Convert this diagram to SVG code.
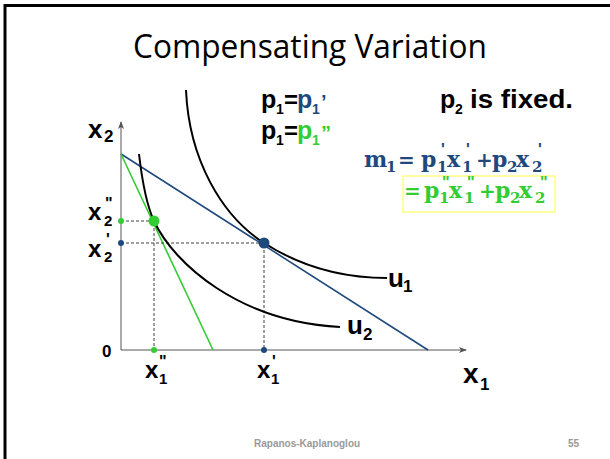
<svg xmlns="http://www.w3.org/2000/svg" width="610" height="459" viewBox="0 0 610 459">
<defs>
<style>
.lab{font-family:"Liberation Sans",Arial,sans-serif;font-weight:bold;fill:#000}
.math{font-family:"DejaVu Serif",serif;font-weight:bold}
.pr{font-family:"Liberation Sans",Arial,sans-serif;font-weight:bold}
.blue{fill:#1F497D}
.green{fill:#33CC33}
.dash{stroke:#404040;stroke-width:1;stroke-dasharray:3,2;fill:none}
.curve{fill:none;stroke:#000;stroke-width:2}
.axis{stroke:#555;stroke-width:1;fill:none}
</style>
<marker id="arr" markerWidth="8" markerHeight="6" refX="7" refY="3" orient="auto" markerUnits="userSpaceOnUse"><path d="M0,0 L8,3 L0,6 L2,3 z" fill="#555"/></marker>
</defs>
<rect width="610" height="459" fill="#fff"/>
<rect x="5" y="5.5" width="620" height="470" fill="none" stroke="#000" stroke-width="3"/>
<text x="310" y="58" text-anchor="middle" font-family="'Open Sans',sans-serif" font-size="32" textLength="354" lengthAdjust="spacingAndGlyphs" fill="#000">Compensating Variation</text>

<g id="axes">
<line class="axis" x1="121" y1="350" x2="121" y2="122" marker-end="url(#arr)"/>
<line class="axis" x1="121" y1="350" x2="466" y2="350" marker-end="url(#arr)"/>
</g>

<g id="connectors">
<line x1="121" y1="154" x2="428" y2="350" stroke="#1F497D" stroke-width="1.6"/>
<line x1="121" y1="154" x2="213" y2="350" stroke="#33CC33" stroke-width="1.6"/>
<path class="dash" d="M121,221 H154 V350"/>
<path class="dash" d="M121,243 H264 V350"/>
<path id="u1" class="curve" d="M186,90 C189,160 222,216 264,243 C300,266 340,278 387,278"/>
<path id="u2" class="curve" d="M139,154 C142,180 147,206 154,221 C174,264 240,322 340,327"/>
</g>

<g id="points">
<circle cx="154" cy="221" r="5.5" fill="#33CC33"/>
<circle cx="264" cy="243" r="5.5" fill="#1F497D"/>
<circle cx="121" cy="221" r="3" fill="#33CC33"/>
<circle cx="121" cy="243" r="3" fill="#1F497D"/>
<circle cx="154" cy="350" r="3" fill="#33CC33"/>
<circle cx="264" cy="350" r="3" fill="#1F497D"/>
</g>

<g id="axis-labels" class="lab">
<text x="88" y="138" font-size="26">x</text><text x="104" y="142" font-size="17">2</text>
<text x="102" y="357" font-size="17">0</text>
<text x="88" y="220" font-size="24">x</text><text x="105" y="209" font-size="16">"</text><text x="104" y="226" font-size="15">2</text>
<text x="88" y="257" font-size="24">x</text><text x="106" y="245" font-size="16">'</text><text x="104" y="262" font-size="15">2</text>
<text x="145" y="378" font-size="24">x</text><text x="159" y="367" font-size="16">"</text><text x="159" y="384" font-size="15">1</text>
<text x="257" y="378" font-size="24">x</text><text x="272" y="367" font-size="16">'</text><text x="271" y="384" font-size="15">1</text>
<text x="463" y="383" font-size="28">x</text><text x="480" y="390" font-size="17">1</text>
<text x="388" y="287" font-size="26">u</text><text x="403" y="292" font-size="17">1</text>
<text x="347" y="334" font-size="26">u</text><text x="363" y="340" font-size="17">2</text>
</g>

<g id="price-notes" class="lab">
<text x="261" y="108" font-size="25">p</text><text x="276" y="114" font-size="14">1</text><text x="284" y="108" font-size="24">=</text>
<text x="297" y="108" font-size="25" class="blue">p</text><text x="312" y="114" font-size="14" class="blue">1</text><text x="321" y="109" font-size="20" class="blue">’</text>
<text x="261" y="139" font-size="25">p</text><text x="276" y="145" font-size="14">1</text><text x="284" y="139" font-size="24">=</text>
<text x="297" y="139" font-size="25" class="green">p</text><text x="312" y="145" font-size="14" class="green">1</text><text x="321" y="140" font-size="20" class="green">”</text>
<text x="440" y="108" font-size="25">p</text><text x="455" y="114" font-size="14">2</text><text x="470" y="108" font-size="25" textLength="103" lengthAdjust="spacingAndGlyphs">is fixed.</text>
</g>

<g id="budget-eq" class="math">
<g class="blue">
<text x="364" y="167" font-size="22">m</text><text x="386" y="172" font-size="15">1</text>
<text x="398" y="167" font-size="20">=</text>
<text x="421" y="167" font-size="22">p</text><text x="441" y="155" font-size="16" class="pr">'</text><text x="437" y="172" font-size="15">1</text>
<text x="447" y="167" font-size="22">x</text><text x="466" y="155" font-size="16" class="pr">'</text><text x="462" y="172" font-size="15">1</text>
<text x="476" y="167" font-size="20">+</text>
<text x="492" y="167" font-size="22">p</text><text x="507" y="172" font-size="15">2</text>
<text x="516" y="167" font-size="22">x</text><text x="538" y="155" font-size="16" class="pr">'</text><text x="532" y="172" font-size="15">2</text>
</g>
<rect x="403" y="176" width="152" height="36" fill="none" stroke="#FFFF44" stroke-width="1"/>
<g class="green">
<text x="404" y="198" font-size="20">=</text>
<text x="424" y="198" font-size="22">p</text><text x="442" y="188" font-size="16" class="pr">"</text><text x="439" y="203" font-size="15">1</text>
<text x="449" y="198" font-size="22">x</text><text x="467" y="188" font-size="16" class="pr">"</text><text x="464" y="203" font-size="15">1</text>
<text x="479" y="198" font-size="20">+</text>
<text x="495" y="198" font-size="22">p</text><text x="510" y="203" font-size="15">2</text>
<text x="519" y="198" font-size="22">x</text><text x="540" y="188" font-size="16" class="pr">"</text><text x="535" y="203" font-size="15">2</text>
</g>
</g>

<g id="footer" font-family="'Liberation Sans',Arial,sans-serif" font-weight="bold" font-size="10" fill="#999">
<text x="254" y="447">Rapanos-Kaplanoglou</text>
<text x="568" y="447">55</text>
</g>
</svg>
